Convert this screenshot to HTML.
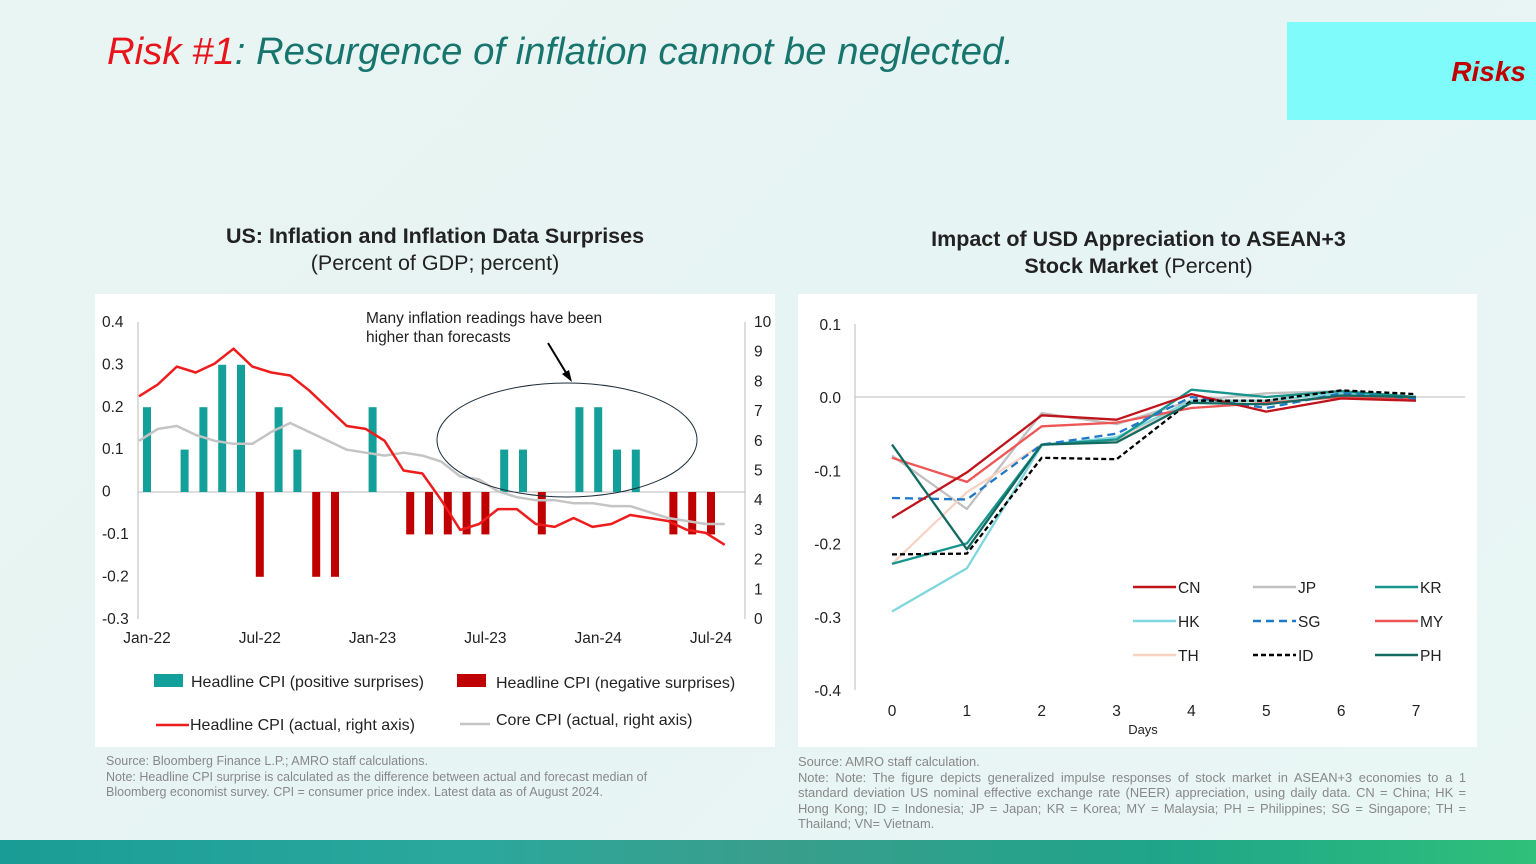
<!DOCTYPE html>
<html><head><meta charset="utf-8">
<style>
html,body{margin:0;padding:0}
body{width:1536px;height:864px;position:relative;overflow:hidden;font-family:"Liberation Sans",sans-serif;background:linear-gradient(135deg,#e9f5f2 0%,#e6f4f3 50%,#e9f6f4 100%)}
.title{position:absolute;left:107px;top:30px;font-size:38.3px;font-style:italic;color:#17756e;white-space:nowrap}
.title span{color:#e8141c}
.risks{position:absolute;left:1287px;top:22px;width:249px;height:98px;background:#80fbfb}
.risks div{position:absolute;right:10px;top:34px;font-size:28px;font-weight:bold;font-style:italic;color:#c00000}
.ct{position:absolute;text-align:center;font-size:21.5px;color:#222;line-height:27px}
.panel{position:absolute;background:#fff}
.note{position:absolute;font-size:12.5px;color:#888;line-height:15.5px}
.band{position:absolute;left:0;top:840px;width:1536px;height:24px;background:linear-gradient(90deg,#1a9c96 0%,#2aa89d 30%,#3a9e8c 50%,#1fa48a 75%,#2fc07a 100%)}
</style></head><body>
<div class="title"><span>Risk #1</span>: Resurgence of inflation cannot be neglected.</div>
<div class="risks"><div>Risks</div></div>
<div class="ct" style="left:95px;top:223px;width:680px"><b>US: Inflation and Inflation Data Surprises</b><br>(Percent of GDP; percent)</div>
<div class="ct" style="left:800px;top:226px;width:677px"><b>Impact of USD Appreciation to ASEAN+3<br>Stock Market</b> (Percent)</div>
<div class="panel" style="left:95px;top:294px;width:680px;height:453px"></div>
<div class="panel" style="left:798px;top:294px;width:679px;height:453px"></div>
<svg id="s" width="1536" height="864" style="position:absolute;left:0;top:0" font-family="Liberation Sans, sans-serif"></svg>
<div class="note" style="left:106px;top:754px;width:580px">Source: Bloomberg Finance L.P.; AMRO staff calculations.<br>Note: Headline CPI surprise is calculated as the difference between actual and forecast median of Bloomberg economist survey. CPI = consumer price index. Latest data as of August 2024.</div>
<div class="note" style="left:798px;top:754px;width:668px;text-align:justify;font-size:12.9px">Source: AMRO staff calculation.<br>Note: Note: The figure depicts generalized impulse responses of stock market in ASEAN+3 economies to a 1 standard deviation US nominal effective exchange rate (NEER) appreciation, using daily data. CN = China; HK = Hong Kong; ID = Indonesia; JP = Japan; KR = Korea; MY = Malaysia; PH = Philippines; SG = Singapore; TH = Thailand; VN= Vietnam.</div>
<div class="band"></div>
<script>
var h='';
function t(x,y,s,a,fs,c){h+='<text x="'+x+'" y="'+y+'" font-size="'+(fs||15)+'" fill="'+(c||'#222')+'" text-anchor="'+(a||'start')+'">'+s+'</text>';}
var Y0=492,U=424,X0=147,DX=18.8;
function ly(v){return Y0-v*U}
function ry(v){return 619-v*29.7}
h+='<line x1="138" y1="322" x2="138" y2="619" stroke="#bbb"/><line x1="745" y1="322" x2="745" y2="619" stroke="#bbb"/>';
h+='<line x1="138" y1="492" x2="745" y2="492" stroke="#bbb"/>';
['0.4','0.3','0.2','0.1','0','-0.1','-0.2','-0.3'].forEach(function(s,i){t(102,327+i*42.4,s,'start',15.5);});
for(var i=0;i<=10;i++)t(754,624-i*29.7,i,'start',15.5);
[['Jan-22',0],['Jul-22',6],['Jan-23',12],['Jul-23',18],['Jan-24',24],['Jul-24',30]].forEach(function(a){t(X0+a[1]*DX,643,a[0],'middle',15.5);});
var bars={0:.2,2:.1,3:.2,4:.3,5:.3,7:.2,8:.1,12:.2,19:.1,20:.1,23:.2,24:.2,25:.1,26:.1,6:-.2,9:-.2,10:-.2,14:-.1,15:-.1,16:-.1,17:-.1,18:-.1,21:-.1,28:-.1,29:-.1,30:-.1};
for(var k in bars){var v=bars[k],x=X0+k*DX-4;if(v>0)h+='<rect x="'+x+'" y="'+ly(v)+'" width="8" height="'+(v*U)+'" fill="#13a09a"/>';else h+='<rect x="'+x+'" y="492" width="8" height="'+(-v*U)+'" fill="#c00000"/>';}
var hd=[7.5,7.9,8.5,8.3,8.6,9.1,8.5,8.3,8.2,7.7,7.1,6.5,6.4,6.0,5.0,4.9,4.0,3.0,3.2,3.7,3.7,3.2,3.1,3.4,3.1,3.2,3.5,3.4,3.3,3.0,2.9,2.5];
var co=[6.0,6.4,6.5,6.2,6.0,5.9,5.9,6.3,6.6,6.3,6.0,5.7,5.6,5.5,5.6,5.5,5.3,4.8,4.7,4.3,4.1,4.0,4.0,3.9,3.9,3.8,3.8,3.6,3.4,3.3,3.2,3.2];
function pl(a,c,w,f,dash){return '<polyline fill="none" stroke="'+c+'" stroke-width="'+w+'" '+(dash?'stroke-dasharray="'+dash+'" ':'')+'stroke-linejoin="round" points="'+a.map(function(v,i){return f(i,v)}).join(' ')+'"/>';}
var lf=function(i,v){return (X0-8+i*DX*1.005).toFixed(1)+','+ry(v).toFixed(1)};
h+=pl(co,'#c4c4c4',2.5,lf);
h+=pl(hd,'#ee1c1c',2.5,lf);
h+='<ellipse cx="567" cy="440" rx="130" ry="57" fill="none" stroke="#1e2e3a" stroke-width="1"/>';
h+='<line x1="548" y1="343" x2="568" y2="376" stroke="#000" stroke-width="2"/><polygon points="572,382 562,374 569,370" fill="#000"/>';
t(366,323,'Many inflation readings have been','start',15.5);t(366,342,'higher than forecasts','start',15.5);
h+='<rect x="154" y="674" width="29" height="13" fill="#13a09a"/>';t(191,687,'Headline CPI (positive surprises)','start',16);
h+='<rect x="457" y="674" width="29" height="13" fill="#c00000"/>';t(496,688,'Headline CPI (negative surprises)','start',16);
h+='<line x1="156" y1="725" x2="189" y2="725" stroke="#ee1c1c" stroke-width="2.5"/>';t(190,730,'Headline CPI (actual, right axis)','start',16);
h+='<line x1="460" y1="724" x2="490" y2="724" stroke="#c4c4c4" stroke-width="2.5"/>';t(496,725,'Core CPI (actual, right axis)','start',16);
function yy(v){return 397-v*732}
function xx(i){return 892+i*74.86}
h+='<line x1="855" y1="324" x2="855" y2="690" stroke="#bbb"/><line x1="855" y1="397" x2="1465" y2="397" stroke="#bbb"/>';
['0.1','0.0','-0.1','-0.2','-0.3','-0.4'].forEach(function(s,i){t(841,330+i*73.2,s,'end',15.5);});
for(var i=0;i<8;i++)t(xx(i),716,i,'middle',15.5);
t(1143,734,'Days','middle',13);
var S=[
['JP','#c0c0c0',[-.08,-.153,-.022,-.037,-.005,.005,.008,0],''],
['TH','#f8d3c3',[-.228,-.13,-.065,-.06,-.005,-.005,.005,0],''],
['HK','#7fd6dc',[-.293,-.234,-.066,-.055,-.005,-.005,.005,0],''],
['MY','#ee5555',[-.083,-.116,-.04,-.035,-.015,-.008,0,-.003],''],
['KR','#17958d',[-.228,-.2,-.065,-.058,.01,0,.008,0],''],
['SG','#1f78c8',[-.138,-.14,-.065,-.05,0,-.015,.005,-.002],'8,5'],
['CN','#c0141c',[-.165,-.103,-.025,-.031,.004,-.02,-.002,-.005],''],
['ID','#000',[-.215,-.214,-.083,-.085,-.005,-.005,.009,.004],'5,3'],
['PH','#136a60',[-.065,-.208,-.065,-.062,-.008,-.01,.002,0],'']];
S.forEach(function(s){h+=pl(s[2],s[1],2.3,function(i,v){return xx(i).toFixed(1)+','+yy(v).toFixed(1)},s[3]);});
var L={CN:[1133,587],JP:[1253,587],KR:[1375,587],HK:[1133,621],SG:[1253,621],MY:[1375,621],TH:[1133,655],ID:[1253,655],PH:[1375,655]};
S.forEach(function(s){var p=L[s[0]];h+='<line x1="'+p[0]+'" y1="'+p[1]+'" x2="'+(p[0]+43)+'" y2="'+p[1]+'" stroke="'+s[1]+'" stroke-width="2.5" '+(s[3]?'stroke-dasharray="'+s[3]+'"':'')+'/>';t(p[0]+45,p[1]+6,s[0],'start',15.5);});
document.getElementById('s').innerHTML=h;
</script>
</body></html>
